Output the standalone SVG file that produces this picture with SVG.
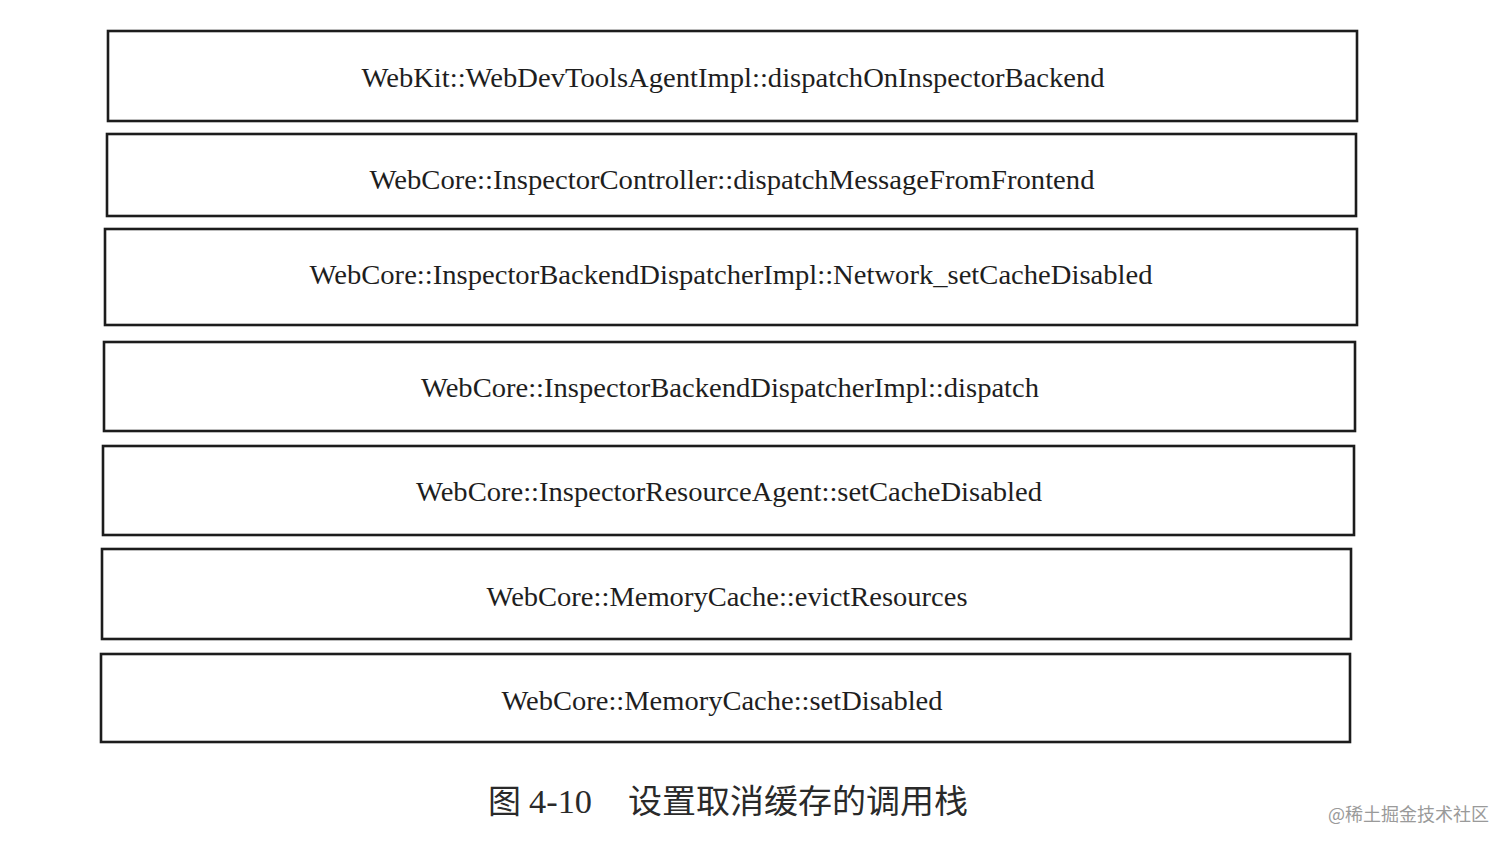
<svg xmlns="http://www.w3.org/2000/svg" width="1512" height="848" viewBox="0 0 1512 848">
<style>
.box{fill:#ffffff;stroke:#1c1c1c;stroke-width:2.6}
.lbl{font-family:"Liberation Serif","Times New Roman",serif;font-size:28px;fill:#1e1e1e;text-anchor:middle}
.cap{font-family:"Noto Sans CJK SC",serif;font-size:33px;fill:#2a2a2a}
.num{font-family:"Liberation Serif","Times New Roman",serif;font-size:34px;fill:#2a2a2a}
.wm{font-family:"Noto Sans CJK SC","Noto Sans",sans-serif;font-size:18px;fill:#9a9a9a}
</style>
<rect width="1512" height="848" fill="#ffffff"/>
<g id="n1"><rect class="box" x="108" y="31" width="1249" height="90"/><text class="lbl" x="733" y="87" textLength="743" lengthAdjust="spacingAndGlyphs">WebKit::WebDevToolsAgentImpl::dispatchOnInspectorBackend</text></g>
<g id="n2"><rect class="box" x="107" y="134" width="1249" height="82"/><text class="lbl" x="732" y="189" textLength="725" lengthAdjust="spacingAndGlyphs">WebCore::InspectorController::dispatchMessageFromFrontend</text></g>
<g id="n3"><rect class="box" x="105" y="229" width="1252" height="96"/><text class="lbl" x="731" y="284" textLength="843" lengthAdjust="spacingAndGlyphs">WebCore::InspectorBackendDispatcherImpl::Network_setCacheDisabled</text></g>
<g id="n4"><rect class="box" x="104" y="342" width="1251" height="89"/><text class="lbl" x="730" y="397" textLength="618" lengthAdjust="spacingAndGlyphs">WebCore::InspectorBackendDispatcherImpl::dispatch</text></g>
<g id="n5"><rect class="box" x="103" y="446" width="1251" height="89"/><text class="lbl" x="729" y="501" textLength="626" lengthAdjust="spacingAndGlyphs">WebCore::InspectorResourceAgent::setCacheDisabled</text></g>
<g id="n6"><rect class="box" x="102" y="549" width="1249" height="90"/><text class="lbl" x="727" y="606" textLength="481" lengthAdjust="spacingAndGlyphs">WebCore::MemoryCache::evictResources</text></g>
<g id="n7"><rect class="box" x="101" y="654" width="1249" height="88"/><text class="lbl" x="722" y="710" textLength="441" lengthAdjust="spacingAndGlyphs">WebCore::MemoryCache::setDisabled</text></g>
<g id="connectors"></g>
<g id="caption">
<text class="cap" x="488" y="813">图</text>
<text class="num" x="529" y="813" textLength="63" lengthAdjust="spacingAndGlyphs">4-10</text>
<text class="cap" x="628" y="813" textLength="340" lengthAdjust="spacingAndGlyphs">设置取消缓存的调用栈</text>
</g>
<text class="wm" x="1328" y="821">@稀土掘金技术社区</text>
</svg>
